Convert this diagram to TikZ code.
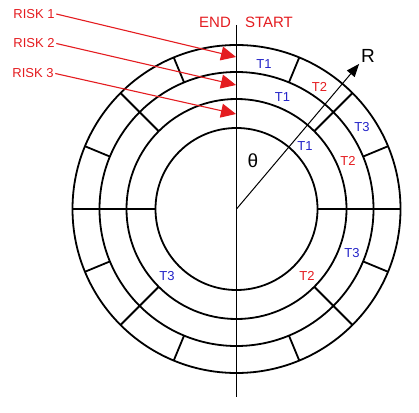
\documentclass[tikz,border=0pt]{standalone}
\usepackage{fontspec}
\setmainfont{Liberation Sans}
\usetikzlibrary{arrows.meta}
\definecolor{riskred}{RGB}{228,28,32}
\definecolor{tblue}{RGB}{35,35,200}
\tikzset{
  ring/.style={line width=1.8pt, black},
  lbl/.style={font=\fontsize{13}{15}\selectfont, inner sep=1.5pt},
  redlbl/.style={lbl, text=riskred},
  bluelbl/.style={lbl, text=tblue},
  headlbl/.style={redlbl, font=\fontsize{15}{17}\selectfont},
  riskarrow/.style={riskred, line width=1.1pt, -{Triangle[length=15pt,width=14pt]}},
  radarrow/.style={black, line width=1pt, -{Triangle[length=13pt,width=10pt]}},
  big/.style={font=\fontsize{19}{22}\selectfont, inner sep=0pt}
}
\begin{document}
\begin{tikzpicture}[x=1pt,y=1pt]
\useasboundingbox (0,0) rectangle (419,412);
\coordinate (C) at (236.5,203);
% circles
\foreach \r in {164,137,110,81}
  \draw[ring] (C) circle (\r);
% vertical axis
\coordinate (vtop) at (236.5,387);
\coordinate (vbot) at (236.5,15);
\draw[ring] (vtop) -- (vbot);
% horizontal dividers
\draw[ring] ([shift={(180:81)}]C) -- ([shift={(180:164)}]C);
\draw[ring] ([shift={(0:81)}]C) -- ([shift={(0:164)}]C);
% outer ring dividers
\foreach \a in {22.5,67.5,112.5,157.5,202.5,247.5,292.5,337.5}
  \draw[ring] ([shift={(\a:137)}]C) -- ([shift={(\a:164)}]C);
% middle + outer ring dividers
\foreach \a in {45,135,225,315}
  \draw[ring] ([shift={(\a:110)}]C) -- ([shift={(\a:164)}]C);
% R arrow
\coordinate (Rtip) at ([shift={(49.8:190)}]C);
\draw[radarrow] (C) -- (Rtip);
\node[big] (R) at (368,356) {R};
\node[big] (theta) at (253,251.5) {θ};
% END / START
\node[headlbl] (end) at (215,389.5) {END};
\node[headlbl] (start) at (269,389.5) {START};
% risks
\node[redlbl] (r1) at (34,398) {RISK 1};
\node[redlbl] (r2) at (34,368.5) {RISK 2};
\node[redlbl] (r3) at (33,338.5) {RISK 3};
\coordinate (t1) at (236,355);
\coordinate (t2) at (236,327);
\coordinate (t3) at (236,298);
\draw[riskarrow] (r1.east) -- (t1);
\draw[riskarrow] (r2.east) -- (t2);
\draw[riskarrow] (r3.east) -- (t3);
% task labels
\node[bluelbl] (a1) at (264,348) {T1};
\node[bluelbl] (a2) at (282.5,314.5) {T1};
\node[redlbl]  (a3) at (319.5,325) {T2};
\node[bluelbl] (a4) at (362,285) {T3};
\node[bluelbl] (a5) at (305,266) {T1};
\node[redlbl]  (a6) at (348,251) {T2};
\node[bluelbl] (a7) at (352,159) {T3};
\node[redlbl]  (a8) at (307,136) {T2};
\node[bluelbl] (a9) at (167,136) {T3};
\end{tikzpicture}
\end{document}
